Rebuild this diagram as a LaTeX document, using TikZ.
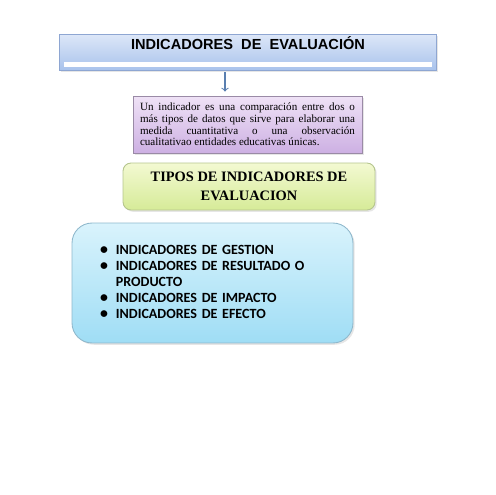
\documentclass[tikz,border=0pt]{standalone}
\usepackage{fontspec}
\setmainfont{Liberation Serif}
\newfontfamily\titlefont{Liberation Sans}
\newfontfamily\listfont{Carlito}
\usepackage{tikz}
\usetikzlibrary{shadows}

\definecolor{titletop}{HTML}{DDE7F8}
\definecolor{titlebot}{HTML}{A9C3EC}
\definecolor{titleline}{HTML}{8EA6D2}
\definecolor{deftop}{HTML}{EFE2F6}
\definecolor{defbot}{HTML}{CDB0E3}
\definecolor{defline}{HTML}{9A8AA6}
\definecolor{tipotop}{HTML}{F3F9D2}
\definecolor{tipobot}{HTML}{D6EB98}
\definecolor{tipoline}{HTML}{B5C58E}
\definecolor{listtop}{HTML}{D9F3FC}
\definecolor{listbot}{HTML}{9FDDF5}
\definecolor{listline}{HTML}{8FB8CC}
\definecolor{arrowblue}{HTML}{5A7FB0}

\tikzset{
  box/.style={draw, line width=0.5pt, inner sep=0pt,
              drop shadow={shadow xshift=1pt, shadow yshift=-1pt, opacity=0.2}},
  titlebox/.style={box, draw=titleline, top color=titletop, bottom color=titlebot,
              minimum width=7.54cm, inner ysep=0pt, text height=0.30cm, text depth=0.42cm,
              font=\titlefont\bfseries\fontsize{8.3}{9}\selectfont},
  defbox/.style={box, draw=defline, top color=deftop, bottom color=defbot,
              minimum width=4.58cm, minimum height=1.14cm, text width=4.3cm, align=justify,
              font=\fontsize{6.3}{6.7}\selectfont},
  tipobox/.style={box, draw=tipoline, top color=tipotop, bottom color=tipobot,
              rounded corners=0.16cm, minimum width=5.04cm, minimum height=0.94cm,
              align=center, font=\bfseries\fontsize{8.2}{10.8}\selectfont},
  listbox/.style={box, draw=listline, top color=listtop, bottom color=listbot,
              rounded corners=0.4cm, inner xsep=0.56cm, text width=4.5cm,
              minimum height=2.4cm, align=left,
              font=\listfont\bfseries\fontsize{8}{9.1}\selectfont}
}

\begin{document}
\begin{tikzpicture}[x=0.02cm,y=-0.02cm]
  \useasboundingbox (0,0) rectangle (495,495);
  % title
  \node[titlebox] (title) at (248,52) {INDICADORES\ \ DE\ \ EVALUACI\'ON};
  \fill[white] ([xshift=5*0.02cm,yshift=3*0.02cm]title.south west)
    rectangle ([xshift=-5*0.02cm,yshift=8*0.02cm]title.south east);
  % definition
  \node[defbox] (def) at (247.5,124.5) {Un indicador es una comparaci\'on entre dos o\linebreak
    m\'as tipos de datos que sirve para elaborar una\linebreak
    medida cuantitativa o una observaci\'on\linebreak
    cualitativao\ entidades educativas \'unicas.};
  \coordinate (arr) at (225,72);
  \draw[-to, arrowblue, line width=0.6pt, shorten >=4*0.02cm] (arr) -- (arr |- def.north);
  % tipos
  \node[tipobox] (tipos) at (249,186.5) {TIPOS DE INDICADORES DE\\ EVALUACION};
  % lista
  \node[listbox] (lista) at (212.5,283) {%
    \begin{tabular}{@{}l@{\hspace{0.16cm}}l@{}}
      {\small\textbullet} & INDICADORES DE GESTION\\
      {\small\textbullet} & INDICADORES DE RESULTADO O\\
                  & PRODUCTO\\
      {\small\textbullet} & INDICADORES DE IMPACTO\\
      {\small\textbullet} & INDICADORES DE EFECTO
    \end{tabular}};
\end{tikzpicture}
\end{document}
